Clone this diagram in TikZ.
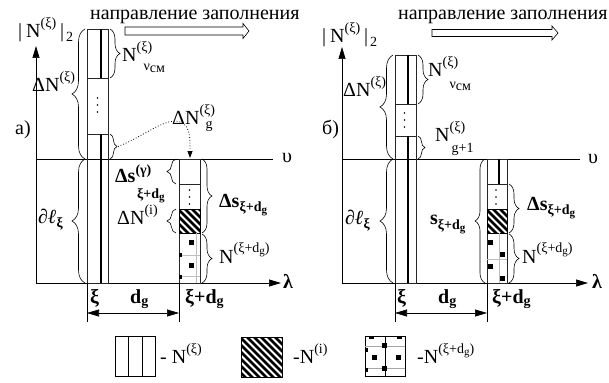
\documentclass[tikz,border=0pt]{standalone}
\usepackage{fontspec}
\setmainfont{Liberation Serif}
\usetikzlibrary{decorations.pathreplacing,arrows.meta}
\newcommand{\up}[2][10pt]{\raisebox{#1}{\fontsize{14}{14}\selectfont #2}}
\newcommand{\dn}[2][3pt]{\raisebox{-#1}{\fontsize{14}{14}\selectfont #2}}
\newcommand{\ssub}[2][2pt]{\raisebox{-#1}{\fontsize{11}{11}\selectfont #2}}
\newcommand{\hatchbox}[4]{%
  \begin{scope}
    \clip (#1,#2) rectangle (#3,#4);
    \foreach \k in {-64,-57,...,64} \draw[line width=2.6pt] (#1+\k,#2) -- ++(60,60);
  \end{scope}
  \draw[line width=0.7pt] (#1,#2) rectangle (#3,#4);}
\begin{document}
\begin{tikzpicture}[x=1pt,y=-1pt,
  lab/.style={inner sep=0pt,anchor=base west,font=\fontsize{20}{24}\selectfont},
  edge/.style={line width=0.7pt,draw=black!85},
  thickl/.style={line width=1.8pt},
  br/.style={decorate,decoration={brace,amplitude=#1},line width=0.6pt},
  tip/.style={-{Triangle[length=12pt,width=7pt]}},
  dimarr/.style={{Triangle[length=12pt,width=7pt]}-{Triangle[length=12pt,width=7pt]},line width=0.6pt},
  hollow/.style={line width=0.6pt,draw=black,fill=white},
  sq/.style={fill=black},
  dotcol/.style={fill=black}
]
\useasboundingbox (0,0) rectangle (609,382);

% ================= panel a =================
\coordinate (aO) at (36,283);
\coordinate (aY) at (36,46);
\coordinate (aX) at (281,283);
\coordinate (aU0) at (36,159);
\coordinate (aU1) at (273,159);
\draw[line width=0.7pt,tip] (aO) -- (aY);
\draw[line width=0.7pt,tip] (aO) -- (aX);
\draw[line width=0.7pt] (aU0) -- (aU1);

% fill-direction arrow
\draw[hollow] (125,27) -- (243,27) -- (243,23.5) -- (249,31) -- (243,38.5) -- (243,35) -- (125,35) -- cycle;

% column xi
\draw[edge] (87,29) rectangle (108,283);
\draw[edge] (87,78) -- (108,78);
\draw[edge] (87,134) -- (108,134);
\draw[thickl] (101,29) -- (101,78);
\draw[thickl] (101,134) -- (101,283);
\foreach \yy in {98,105,112} \fill (97.5,\yy) circle (0.9);

% column xi+dg
\draw[edge] (179,159) rectangle (200,283);
\draw[edge] (179,184) -- (200,184);
\draw[edge] (179,209) -- (200,209);
\draw[edge] (179,233) -- (200,233);
\foreach \yy in {190,197,204} \fill (189.5,\yy) circle (0.9);
\hatchbox{179}{209}{200}{233}
\draw[black!25,line width=0.4pt] (179,255) -- (200,255) (179,276) -- (200,276) (196,233) -- (196,283);
\fill[sq] (189,240) rectangle (194,245);
\fill[sq] (189,263) rectangle (194,268);
\fill[sq] (179,253) rectangle (182,257);
\fill[sq] (179,275) rectangle (182,279);

% dimension
\draw[line width=0.6pt] (87,283) -- (87,322);
\draw[line width=0.6pt] (179,283) -- (179,322);
\coordinate (aD0) at (87,313);
\coordinate (aD1) at (179,313);
\draw[dimarr] (aD0) -- (aD1);

% braces
\draw[br=13] (85,159) -- (85,29);
\draw[br=13] (85,283) -- (85,159);
\draw[br=10] (110,29) -- (110,78);
\draw[br=7] (110,134) -- (110,159);
\draw[br=9] (176,184) -- (176,159);
\draw[br=9] (176,233) -- (176,209);
\draw[br=10] (202,159) -- (202,233);
\draw[br=10] (202,234) -- (202,283);

% dotted arrow
\coordinate (aBt) at (118,146.5);
\coordinate (aTop) at (190,158);
\draw[dotted,line width=0.8pt,-{Triangle[length=7pt,width=5pt]}] (aBt) .. controls (145,136) and (165,117) .. (180,122) .. controls (191,126) and (190,140) .. (aTop);

% labels
\node[lab] (aNorm) at (18,38) {|\hspace{4pt}N\up{(ξ)}\hspace{4pt}|\hspace{2pt}\dn[4pt]{2}};
\node[lab] (aDir) at (90,20) {направление заполнения};
\node[lab] (aLbl) at (15,135) {а)};
\node[lab] (aDN) at (32,92) {ΔN\up{(ξ)}};
\node[lab] (aNv) at (122,62) {N\rlap{\up{(ξ)}}\hspace{7pt}\dn[9pt]{ν\raisebox{-2pt}{см}}};
\node[lab] (aDNg) at (172,125) {ΔN\rlap{\up{(ξ)}}\hspace{6pt}\dn[4pt]{g}};
\node[lab] (aDl) at (38,223) {\textbf{\textit{∂ℓ}}\dn[4pt]{\bfseries ξ}};
\node[lab] (aDsG) at (115,182) {\textbf{Δs}\up[8pt]{\bfseries (γ)}};
\node[lab] (aDsGs) at (137,198) {\fontsize{14}{14}\selectfont\bfseries ξ+d\ssub{g}};
\node[lab] (aDNi) at (117,224) {ΔN\up{(i)}};
\node[lab] (aDs) at (219,207) {\textbf{Δs}\dn[4pt]{\bfseries ξ+d\ssub{g}}};
\node[lab] (aNxd) at (219,263) {N\up[11pt]{(ξ+d\ssub{g})}};
\node[lab] (aUps) at (282,162) {υ};
\node[lab] (aLam) at (283,288) {\textbf{λ}};
\node[lab] (aXi) at (90,303) {\textbf{ξ}};
\node[lab] (aDg) at (130,303) {\textbf{d}\dn[2pt]{\bfseries g}};
\node[lab] (aXd) at (185,303) {\textbf{ξ+d}\dn[2pt]{\bfseries g}};

% ================= panel b =================
\coordinate (bO) at (342,283);
\coordinate (bY) at (342,47);
\coordinate (bX) at (588,283);
\coordinate (bU0) at (342,159);
\coordinate (bU1) at (580,159);
\draw[line width=0.7pt,tip] (bO) -- (bY);
\draw[line width=0.7pt,tip] (bO) -- (bX);
\draw[line width=0.7pt] (bU0) -- (bU1);

\draw[hollow] (432,29.5) -- (552,29.5) -- (552,26) -- (558,33) -- (552,40) -- (552,36.5) -- (432,36.5) -- cycle;

% column xi
\draw[edge] (395,55) rectangle (416,283);
\draw[edge] (395,104) -- (416,104);
\draw[edge] (395,136) -- (416,136);
\draw[thickl] (408,55) -- (408,104);
\draw[thickl] (408,136) -- (408,283);
\foreach \yy in {113,120,127} \fill (404.5,\yy) circle (0.9);

% column xi+dg
\draw[edge] (487,159) rectangle (507,283);
\draw[edge] (487,184) -- (507,184);
\draw[edge] (487,209) -- (507,209);
\draw[edge] (487,233) -- (507,233);
\draw[thickl] (499,159) -- (499,184);
\foreach \yy in {190,197,204} \fill (496,\yy) circle (0.9);
\hatchbox{487}{209}{507}{233}
\draw[black!25,line width=0.4pt] (499,233) -- (499,283) (487,259) -- (507,259);
\fill[sq] (488,240) rectangle (493,245);
\fill[sq] (500,252) rectangle (505,257);
\fill[sq] (488,264) rectangle (493,269);
\fill[sq] (500,276) rectangle (505,281);

% dimension
\draw[line width=0.6pt] (395,283) -- (395,322);
\draw[line width=0.6pt] (487,283) -- (487,322);
\coordinate (bD0) at (395,313);
\coordinate (bD1) at (487,313);
\draw[dimarr] (bD0) -- (bD1);

% braces
\draw[br=13] (393,159) -- (393,55);
\draw[br=13] (393,283) -- (393,159);
\draw[br=10] (418,55) -- (418,104);
\draw[br=7] (418,136) -- (418,159);
\draw[br=10] (485,283) -- (485,159);
\draw[br=10] (509,184) -- (509,233);
\draw[br=10] (509,234) -- (509,283);

% labels
\node[lab] (bNorm) at (322,43) {|\hspace{4pt}N\up{(ξ)}\hspace{4pt}|\hspace{2pt}\dn[4pt]{2}};
\node[lab] (bDir) at (398,20) {направление заполнения};
\node[lab] (bLbl) at (322,135) {б)};
\node[lab] (bDN) at (343,97) {ΔN\up{(ξ)}};
\node[lab] (bNv) at (428,77) {N\rlap{\up{(ξ)}}\hspace{7pt}\dn[12pt]{ν\raisebox{-2pt}{см}}};
\node[lab] (bNg) at (435,142) {N\rlap{\up{(ξ)}}\hspace{2pt}\dn[11pt]{g+1}};
\node[lab] (bDl) at (345,224) {\textbf{\textit{∂ℓ}}\dn[4pt]{\bfseries ξ}};
\node[lab] (bS) at (430,224) {\textbf{s}\dn[5pt]{\bfseries ξ+d\ssub{g}}};
\node[lab] (bDs) at (527,210) {\textbf{Δs}\dn[4pt]{\bfseries ξ+d\ssub{g}}};
\node[lab] (bNxd) at (522,263) {N\up[11pt]{(ξ+d\ssub{g})}};
\node[lab] (bUps) at (588,163) {υ};
\node[lab] (bLam) at (592,288) {\textbf{λ}};
\node[lab] (bXi) at (397,303) {\textbf{ξ}};
\node[lab] (bDg) at (438,303) {\textbf{d}\dn[2pt]{\bfseries g}};
\node[lab] (bXd) at (492,303) {\textbf{ξ+d}\dn[2pt]{\bfseries g}};

% ================= legend =================
\draw[line width=0.7pt] (115,336) rectangle (155,376);
\draw[line width=0.7pt] (128,336) -- (128,376);
\draw[line width=0.7pt] (142,336) -- (142,376);
\node[lab] (l1) at (160,363) {- N\up{(ξ)}};
\hatchbox{241}{337}{282}{377}
\node[lab] (l2) at (293,363) {-N\up{(i)}};
\draw[line width=0.7pt] (365,336) rectangle (405,376);
\draw[line width=0.7pt] (385,336) -- (385,376);
\draw[black!35,line width=0.5pt] (365,346) -- (405,346) (365,368) -- (405,368);
\fill[sq] (369,336) rectangle (374,338.5);
\fill[sq] (397,336) rectangle (402,338.5);
\fill[sq] (382,343) rectangle (387,348);
\fill[sq] (372,355) rectangle (377,360);
\fill[sq] (396,355) rectangle (401,360);
\fill[sq] (382,366) rectangle (387,371);
\fill[sq] (365,348) rectangle (367.5,352);
\fill[sq] (365,368) rectangle (367.5,372);
\node[lab] (l3) at (417,363) {-N\up{(ξ+d\ssub{g})}};
\end{tikzpicture}
\end{document}
